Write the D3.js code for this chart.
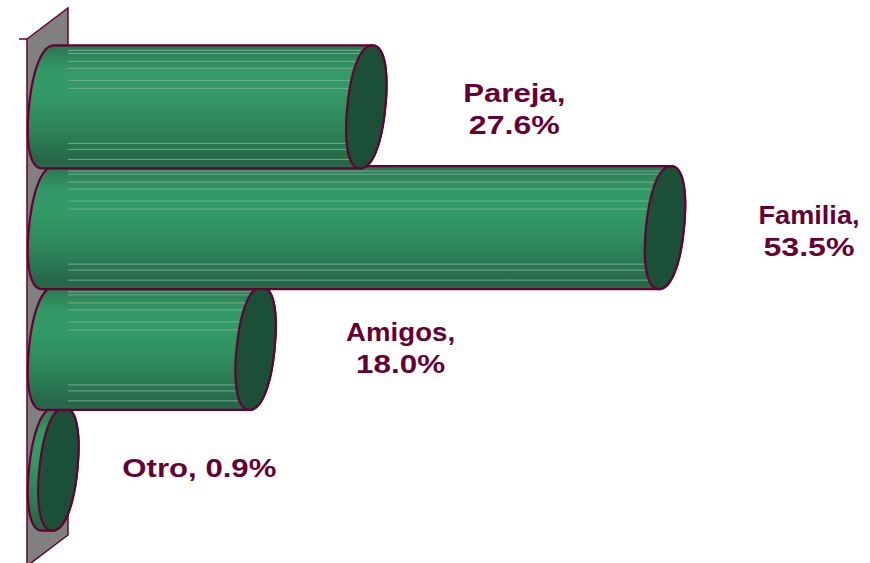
<!DOCTYPE html>
<html><head><meta charset="utf-8">
<script src="https://cdn.jsdelivr.net/npm/d3@7"></script>
<style>html,body{margin:0;padding:0;background:#fff}svg{display:block}</style>
</head><body><svg id="c" width="870" height="563"></svg>
<script>
const categories = ["Pareja","Familia","Amigos","Otro"];
const values = [27.6,53.5,18.0,0.9];
const labelLines = [["Pareja,","27.6%"],["Familia,","53.5%"],["Amigos,","18.0%"],["Otro, 0.9%"]];
const INK="#660033", WALL="#808080", CAP="#1c4f37";
const svg=d3.select("#c");
const x=d3.scaleLinear().domain([0,53.5]).range([48,665]);
const y=d3.scaleBand().domain(categories).range([46.5,529.5]);
const rx=19, ry=61.5, skew=6, fullness=0.9;
const defs=svg.append("defs");
const g=defs.append("linearGradient").attr("id","body").attr("x1",0).attr("y1",0).attr("x2",0).attr("y2",1);
[[0,"#2b7350"],[.06,"#2e8058"],[.2,"#339966"],[.4,"#339966"],[.6,"#2f8a5c"],[.8,"#2a7851"],[.94,"#266647"],[1,"#29694b"]]
 .forEach(s=>g.append("stop").attr("offset",s[0]).attr("stop-color",s[1]));

svg.append("path").attr("d","M27,39L68,8V535L27,566Z").attr("fill",WALL).attr("stroke",INK).attr("stroke-width",1.5);
svg.append("line").attr("x1",19).attr("x2",27).attr("y1",39).attr("y2",39).attr("stroke",INK).attr("stroke-width",1.5);

const sp=v=>Math.sign(v)*Math.pow(Math.abs(v),fullness);
function pt(cx,cy,t){const c=sp(Math.cos(t)),s=sp(Math.sin(t));return [cx+rx*c-skew*s, cy+ry*s];}
const toD=p=>"M"+p.map(a=>a[0].toFixed(1)+","+a[1].toFixed(1)).join("L")+"Z";
function ell(cx,cy){const n=64,p=[];for(let i=0;i<n;i++)p.push(pt(cx,cy,i/n*2*Math.PI));return toD(p);}
function bodyPath(x0,x1,cy){
  const p=[],n=32;
  for(let i=0;i<=n;i++)p.push(pt(x0,cy,Math.PI/2+i/n*Math.PI));
  for(let i=0;i<=n;i++)p.push(pt(x1,cy,-Math.PI/2+i/n*Math.PI));
  return toD(p);
}
const sheen=[5,8,16,23,35,43,98,104,114];
const labelDx=[148,144,145,141], labelBase=[102,224,341,477];
const lineWidth={"Pareja,":102,"27.6%":91,"Familia,":101,"53.5%":91,"Amigos,":109,"18.0%":89,"Otro, 0.9%":154};

const rows=categories.map((c,i)=>({c,v:values[i],i})).reverse();
rows.forEach(d=>{
  const cy=y(d.c)+y.bandwidth()/2, top=cy-ry, x0=x(0), x1=x(d.v);
  const G=svg.append("g");
  const clipId="clip"+d.i;
  defs.append("clipPath").attr("id",clipId).append("path").attr("d",bodyPath(x0,x1,cy));
  G.append("path").attr("d",bodyPath(x0,x1,cy)).attr("fill","url(#body)").attr("stroke",INK).attr("stroke-width",2.2);
  if(x1>78){
    G.append("g").attr("clip-path",`url(#${clipId})`).selectAll("line").data(sheen).join("line")
     .attr("x1",68).attr("x2",x1+10).attr("y1",o=>top+o).attr("y2",o=>top+o)
     .attr("stroke","#6fae8f").attr("stroke-width",1);
  }
  G.append("path").attr("d",ell(x1,cy)).attr("fill",CAP).attr("stroke",INK).attr("stroke-width",2.2);
  const lx=x1+labelDx[d.i];
  const t=G.append("text").attr("text-anchor","middle").attr("fill",INK)
    .attr("font-family","'Liberation Sans',Arial,sans-serif").attr("font-weight","bold").attr("font-size",25);
  labelLines[d.i].forEach((s,j)=>t.append("tspan").attr("x",lx).attr("y",labelBase[d.i]+j*31.5)
    .attr("textLength",lineWidth[s]).attr("lengthAdjust","spacingAndGlyphs").text(s));
});
</script></body></html>
